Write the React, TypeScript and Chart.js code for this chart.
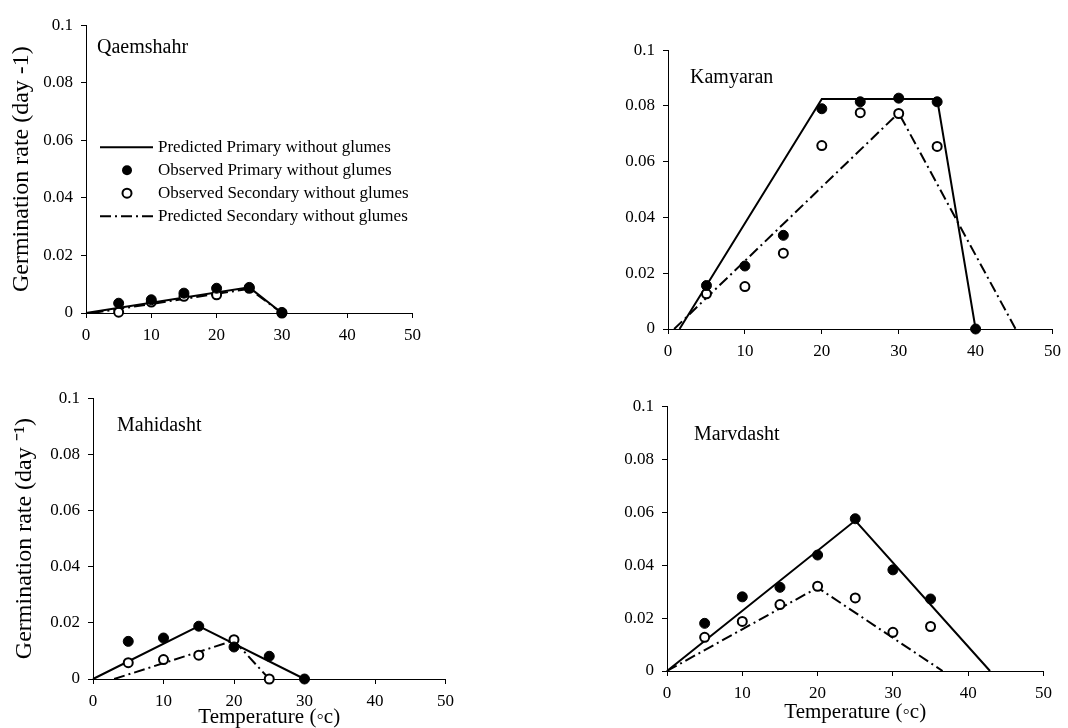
import React, { useEffect, useRef } from "react";
import { Chart, registerables } from "chart.js";

Chart.register(...registerables);

const FONT = '"Liberation Serif", "Times New Roman", Times, serif';

// ---------------- data ----------------
const xTickValues = [0, 10, 20, 30, 40, 50];
const xTickLabels = ["0", "10", "20", "30", "40", "50"];
const yTickValues = [0, 0.02, 0.04, 0.06, 0.08, 0.1];
const yTickLabels = ["0", "0.02", "0.04", "0.06", "0.08", "0.1"];

const legendLabels = [
  "Predicted Primary without glumes",
  "Observed Primary without glumes",
  "Observed Secondary without glumes",
  "Predicted Secondary without glumes",
];

// Qaemshahr
const qaemPrimaryT = [5, 10, 15, 20, 25, 30];
const qaemPrimaryObs = [0.0034, 0.0046, 0.0069, 0.0086, 0.0089, 0.0002];
const qaemSecondaryT = [5, 10, 15, 20, 25, 30];
const qaemSecondaryObs = [0.0003, 0.0038, 0.0058, 0.0063, 0.0086, 0];
const qaemPredPrimaryT = [0, 25, 30];
const qaemPredPrimary = [0, 0.0089, 0];
const qaemPredSecondaryT = [1, 25, 30];
const qaemPredSecondary = [0, 0.0084, 0];

// Kamyaran
const kamPrimaryT = [5, 10, 15, 20, 25, 30, 35, 40];
const kamPrimaryObs = [0.0156, 0.0226, 0.0336, 0.079, 0.0815, 0.0828, 0.0815, 0];
const kamSecondaryT = [5, 10, 15, 20, 25, 30, 35];
const kamSecondaryObs = [0.0126, 0.0152, 0.0272, 0.0658, 0.0776, 0.0773, 0.0655];
const kamPredPrimaryT = [1.5, 20, 35, 40];
const kamPredPrimary = [0, 0.0825, 0.0825, 0];
const kamPredSecondaryT = [0.8, 30, 45.2];
const kamPredSecondary = [0, 0.0775, 0];

// Mahidasht
const mahPrimaryT = [5, 10, 15, 20, 25, 30];
const mahPrimaryObs = [0.0134, 0.0146, 0.0188, 0.0114, 0.0081, 0];
const mahSecondaryT = [5, 10, 15, 20, 25];
const mahSecondaryObs = [0.0058, 0.0069, 0.0085, 0.014, 0];
const mahPredPrimaryT = [0, 15, 30];
const mahPredPrimary = [0, 0.0188, 0];
const mahPredSecondaryT = [3, 20, 25];
const mahPredSecondary = [0, 0.0137, 0];

// Marvdasht
const marPrimaryT = [5, 10, 15, 20, 25, 30, 35];
const marPrimaryObs = [0.018, 0.028, 0.0316, 0.0438, 0.0575, 0.0382, 0.0272];
const marSecondaryT = [5, 10, 15, 20, 25, 30, 35];
const marSecondaryObs = [0.0127, 0.0187, 0.0251, 0.032, 0.0276, 0.0146, 0.0168];
const marPredPrimaryT = [0, 25, 42.9];
const marPredPrimary = [0, 0.0568, 0];
const marPredSecondaryT = [0, 20, 36.6];
const marPredSecondary = [0, 0.0315, 0];

// ---------------- styles ----------------
const DASH_DOT = [11, 4, 2, 4];
const LINE_W = 2;
const FILLED_R = 5;
const OPEN_R = 4.5;

const pts = (xs: number[], ys: number[]) => xs.map((x, i) => ({ x, y: ys[i] }));

type PanelCfg = {
  name: string;
  area: { l: number; t: number; r: number; b: number };
  yWidth: number;
  xHeight: number;
  yTitle: string | null;
  xTitle: string | null;
  nameDx: number;
  nameDy: number;
  legend: boolean;
  primaryT: number[];
  primaryObs: number[];
  secondaryT: number[];
  secondaryObs: number[];
  predPrimaryT: number[];
  predPrimary: number[];
  predSecondaryT: number[];
  predSecondary: number[];
};

const PAD_TOP = 15;
const PAD_RIGHT = 10;

const panels: PanelCfg[] = [
  {
    name: "Qaemshahr",
    area: { l: 86, t: 22, r: 418, b: 313 },
    yWidth: 76,
    xHeight: 40,
    yTitle: "Germination rate (day -1)",
    xTitle: null,
    nameDx: 11,
    nameDy: 23,
    legend: true,
    primaryT: qaemPrimaryT,
    primaryObs: qaemPrimaryObs,
    secondaryT: qaemSecondaryT,
    secondaryObs: qaemSecondaryObs,
    predPrimaryT: qaemPredPrimaryT,
    predPrimary: qaemPredPrimary,
    predSecondaryT: qaemPredSecondaryT,
    predSecondary: qaemPredSecondary,
  },
  {
    name: "Kamyaran",
    area: { l: 668, t: 47, r: 1058, b: 329 },
    yWidth: 70,
    xHeight: 40,
    yTitle: null,
    xTitle: null,
    nameDx: 22,
    nameDy: 28,
    legend: false,
    primaryT: kamPrimaryT,
    primaryObs: kamPrimaryObs,
    secondaryT: kamSecondaryT,
    secondaryObs: kamSecondaryObs,
    predPrimaryT: kamPredPrimaryT,
    predPrimary: kamPredPrimary,
    predSecondaryT: kamPredSecondaryT,
    predSecondary: kamPredSecondary,
  },
  {
    name: "Mahidasht",
    area: { l: 93, t: 395, r: 451, b: 679 },
    yWidth: 80,
    xHeight: 49,
    yTitle: "Germination rate (day \u207B\u00B9)",
    xTitle: "Temperature (\u25E6c)",
    nameDx: 24,
    nameDy: 28,
    legend: false,
    primaryT: mahPrimaryT,
    primaryObs: mahPrimaryObs,
    secondaryT: mahSecondaryT,
    secondaryObs: mahSecondaryObs,
    predPrimaryT: mahPredPrimaryT,
    predPrimary: mahPredPrimary,
    predSecondaryT: mahPredSecondaryT,
    predSecondary: mahPredSecondary,
  },
  {
    name: "Marvdasht",
    area: { l: 667, t: 403, r: 1049, b: 671 },
    yWidth: 70,
    xHeight: 52,
    yTitle: null,
    xTitle: "Temperature (\u25E6c)",
    nameDx: 27,
    nameDy: 29,
    legend: false,
    primaryT: marPrimaryT,
    primaryObs: marPrimaryObs,
    secondaryT: marSecondaryT,
    secondaryObs: marSecondaryObs,
    predPrimaryT: marPredPrimaryT,
    predPrimary: marPredPrimary,
    predSecondaryT: marPredSecondaryT,
    predSecondary: marPredSecondary,
  },
];

const panelTextPlugin = {
  id: "panelText",
  afterDraw(chart: any, _args: any, opts: any) {
    const { ctx, chartArea } = chart;
    ctx.save();
    ctx.fillStyle = "#000";
    ctx.textAlign = "left";
    ctx.textBaseline = "middle";
    ctx.font = `20px ${FONT}`;
    ctx.fillText(opts.name, chartArea.left + opts.nameDx, chartArea.top + opts.nameDy);
    if (opts.legend) {
      const rows = [122, 145, 168, 191];
      const x0 = chartArea.left + 14;
      const x1 = chartArea.left + 67;
      const xm = chartArea.left + 41;
      const xt = chartArea.left + 72;
      ctx.font = `17px ${FONT}`;
      legendLabels.forEach((label, i) => {
        const y = chartArea.top + rows[i];
        ctx.strokeStyle = "#000";
        ctx.fillStyle = "#000";
        if (i === 0 || i === 3) {
          ctx.lineWidth = LINE_W;
          ctx.setLineDash(i === 3 ? DASH_DOT : []);
          ctx.beginPath();
          ctx.moveTo(x0, y);
          ctx.lineTo(x1, y);
          ctx.stroke();
          ctx.setLineDash([]);
        } else if (i === 1) {
          ctx.beginPath();
          ctx.arc(xm, y, FILLED_R, 0, Math.PI * 2);
          ctx.fill();
        } else {
          ctx.lineWidth = 2;
          ctx.fillStyle = "#fff";
          ctx.beginPath();
          ctx.arc(xm, y, OPEN_R, 0, Math.PI * 2);
          ctx.fill();
          ctx.stroke();
          ctx.fillStyle = "#000";
        }
        ctx.fillText(label, xt, y);
      });
    }
    ctx.restore();
  },
};

function Panel({ cfg }: { cfg: PanelCfg }) {
  const ref = useRef<HTMLCanvasElement | null>(null);
  const { area, yWidth, xHeight } = cfg;
  const left = area.l - yWidth;
  const top = area.t - PAD_TOP;
  const width = area.r - area.l + yWidth + PAD_RIGHT;
  const height = area.b - area.t + PAD_TOP + xHeight;

  useEffect(() => {
    if (!ref.current) return;
    const chart = new Chart(ref.current, {
      type: "scatter",
      data: {
        datasets: [
          {
            label: legendLabels[1],
            data: pts(cfg.primaryT, cfg.primaryObs),
            showLine: false,
            pointRadius: FILLED_R,
            pointBackgroundColor: "#000",
            pointBorderColor: "#000",
            pointBorderWidth: 1,
            clip: false,
          },
          {
            label: legendLabels[2],
            data: pts(cfg.secondaryT, cfg.secondaryObs),
            showLine: false,
            pointRadius: OPEN_R,
            pointBackgroundColor: "#fff",
            pointBorderColor: "#000",
            pointBorderWidth: 2,
            clip: false,
          },
          {
            label: legendLabels[0],
            data: pts(cfg.predPrimaryT, cfg.predPrimary),
            showLine: true,
            borderColor: "#000",
            borderWidth: LINE_W,
            pointRadius: 0,
            tension: 0,
            clip: false,
          },
          {
            label: legendLabels[3],
            data: pts(cfg.predSecondaryT, cfg.predSecondary),
            showLine: true,
            borderColor: "#000",
            borderWidth: LINE_W,
            borderDash: DASH_DOT,
            pointRadius: 0,
            tension: 0,
            clip: false,
          },
        ],
      },
      options: {
        animation: false,
        responsive: false,
        layout: { padding: { top: PAD_TOP, right: PAD_RIGHT, left: 0, bottom: 0 } },
        plugins: {
          legend: { display: false },
          tooltip: { enabled: false },
          panelText: {
            name: cfg.name,
            nameDx: cfg.nameDx,
            nameDy: cfg.nameDy,
            legend: cfg.legend,
          },
        } as any,
        scales: {
          x: {
            type: "linear",
            min: 0,
            max: 50,
            afterBuildTicks: (s: any) => {
              s.ticks = xTickValues.map((v) => ({ value: v }));
            },
            afterFit: (s: any) => {
              s.height = xHeight;
            },
            ticks: {
              color: "#000",
              font: { family: FONT, size: 17 },
              padding: 7,
              maxRotation: 0,
              callback: (v: any) => {
                const i = xTickValues.indexOf(Number(v));
                return i >= 0 ? xTickLabels[i] : "";
              },
            },
            grid: { drawOnChartArea: false, drawTicks: true, tickLength: 5, color: "#000" },
            border: { display: true, color: "#000", width: 1 },
            title: {
              display: !!cfg.xTitle,
              text: cfg.xTitle || "",
              color: "#000",
              font: { family: FONT, size: 21, lineHeight: 1 },
              padding: { top: 0, bottom: 0 },
            },
          },
          y: {
            type: "linear",
            min: 0,
            max: 0.1,
            afterBuildTicks: (s: any) => {
              s.ticks = yTickValues.map((v) => ({ value: v }));
            },
            afterFit: (s: any) => {
              s.width = yWidth;
            },
            ticks: {
              color: "#000",
              font: { family: FONT, size: 17 },
              padding: 8,
              callback: (v: any) => {
                const n = Number(v);
                const i = yTickValues.findIndex((t) => Math.abs(t - n) < 1e-9);
                return i >= 0 ? yTickLabels[i] : "";
              },
            },
            grid: { drawOnChartArea: false, drawTicks: true, tickLength: 5, color: "#000" },
            border: { display: true, color: "#000", width: 1 },
            title: {
              display: !!cfg.yTitle,
              text: cfg.yTitle || "",
              color: "#000",
              font: { family: FONT, size: 24, lineHeight: 1 },
              padding: { top: 0, bottom: 0 },
            },
          },
        },
      },
      plugins: [panelTextPlugin as any],
    });
    return () => chart.destroy();
  }, [cfg]);

  return (
    <canvas
      ref={ref}
      width={width}
      height={height}
      style={{ position: "absolute", left, top, width, height }}
    />
  );
}

export default function App() {
  return (
    <div
      style={{
        position: "absolute",
        left: 0,
        top: 0,
        width: 1068,
        height: 728,
        overflow: "hidden",
        background: "#fff",
      }}
    >
      {panels.map((p) => (
        <Panel key={p.name} cfg={p} />
      ))}
    </div>
  );
}
